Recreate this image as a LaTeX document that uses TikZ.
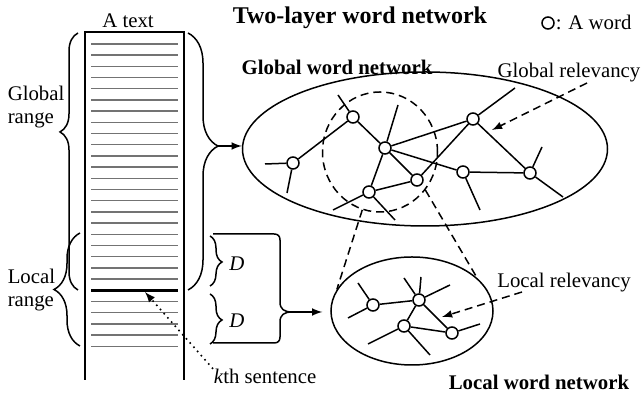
\documentclass[tikz,border=0pt]{standalone}
\usepackage{fontspec}
\setmainfont{Liberation Serif}
\usepackage{tikz}
\usetikzlibrary{shapes.geometric}
\usetikzlibrary{decorations.pathreplacing}

\begin{document}
\begin{tikzpicture}[x=0.5pt,y=-0.5pt,line width=0.75pt,
  font=\fontsize{10.4}{11.5}\selectfont,
  word/.style={shape=circle,draw=black,fill=white,inner sep=0pt,minimum size=6pt},
  net/.style={shape=ellipse,draw=black,inner sep=0pt},
  txtline/.style={line width=0.7pt,black!55},
  dashline/.style={dash pattern=on 4pt off 2.5pt},
  boldlabel/.style={font=\fontsize{10.4}{11.5}\selectfont\bfseries}]

\useasboundingbox (0,0) rectangle (644,399);

%% the text
\draw[line width=0.9pt] (85,380) -- (85,32) -- (184,32) -- (184,380);
\foreach \i in {0,...,27}
  \draw[txtline] (91,{44+11.2*\i}) -- (178,{44+11.2*\i});
\draw[line width=1.3pt] (91,290.4) -- (178,290.4);
\node[anchor=base] (atext) at (128,28) {A text};

%% ranges
\draw[decorate,decoration={brace,amplitude=9pt,aspect=0.615}] (78,290) -- (78,33);
\draw[decorate,decoration={brace,amplitude=13pt,aspect=0.5}] (80,346) -- (80,233);
\node[anchor=west,align=left,inner sep=0pt] (grange) at (7,107) {Global\\range};
\node[anchor=west,align=left,inner sep=0pt] (lrange) at (7,290) {Local\\range};

\draw[decorate,decoration={brace,amplitude=15pt,aspect=0.44}] (188,33) -- (188,290);
\draw[decorate,decoration={brace,amplitude=6pt,aspect=0.52}] (210,236) -- (210,286);
\draw[decorate,decoration={brace,amplitude=6pt,aspect=0.52}] (210,294) -- (210,344);
\node (d1) at (237,264) {\textit{D}};
\node (d2) at (237,321) {\textit{D}};
\draw (213,234) -- (274,234) .. controls (278,234) and (280,236) .. (280,240)
  -- (280,302) .. controls (280,309) and (284,312) .. (292,312)
  .. controls (284,312) and (280,315) .. (280,322)
  -- (280,337) .. controls (280,341) and (278,343) .. (274,343) -- (213,343);

\coordinate (gtip) at (218,146);
\coordinate (ltip) at (292,312);
\coordinate (kline) at (145,292);

%% kth sentence
\node[anchor=base west,inner sep=0pt] (kth) at (213,384) {\textit{k}th sentence};
\draw[dotted,line width=0.8pt,-latex] (kth.north west) -- (kline);

%% titles
\node[anchor=base,font=\fontsize{12}{14}\selectfont\bfseries] (title) at (360,24) {Two-layer word network};
\node[word] (wordkey) at (548,23) {};
\node[anchor=base west,inner sep=0pt] (wordtxt) at (555,30) {: A word};
\node[anchor=base,boldlabel] (gtitle) at (337,75) {Global word network};
\node[anchor=base,boldlabel] (ltitle) at (539,390) {Local word network};
\node[anchor=base] (grel) at (569,78) {Global relevancy};
\node[anchor=base] (lrel) at (564,288) {Local relevancy};

%% global word network
\node[net,minimum width=182.5pt,minimum height=77pt] (gnet) at (425,149) {};
\node[net,dashline,minimum width=57.5pt,minimum height=60pt] (zoomc) at (380,152) {};

\node[word] (g1) at (353,117) {};
\node[word] (g2) at (293,163) {};
\node[word] (g3) at (385,148) {};
\node[word] (g4) at (473,119) {};
\node[word] (g5) at (417,180) {};
\node[word] (g6) at (369,192) {};
\node[word] (g7) at (463,172) {};
\node[word] (g8) at (530,173) {};

\path (g1) edge (g2) edge (g3) edge (338,95);
\path (g2) edge (265,164) edge (287,193);
\path (g3) edge (g4) edge (g7) edge (g5) edge (g6) edge (398,105);
\path (g4) edge (g5) edge (g8) edge (515,88);
\path (g5) edge (g6);
\path (g6) edge (333,210) edge (395,220);
\path (g7) edge (g8) edge (480,210);
\path (g8) edge (542,147) edge (563,197);

%% local word network
\node[net,minimum width=81pt,minimum height=54pt] (lnet) at (412,311) {};

\node[word] (m1) at (373,305) {};
\node[word] (m2) at (419,300) {};
\node[word] (m3) at (404,326) {};
\node[word] (m4) at (452,333) {};

\path (m1) edge (m2) edge (358,283) edge (348,318);
\path (m2) edge (m3) edge (m4) edge (404,278) edge (421,277) edge (450,285);
\path (m3) edge (m4) edge (368,344) edge (430,355);
\path (m4) edge (480,324);

%% arrows
\draw[-latex] (gtip) -- (gnet.west |- gtip);
\draw[-latex,shorten >=4pt] (ltip) -- (lnet.west |- ltip);
\draw[dashline] (zoomc.253) -- (lnet.164);
\draw[dashline] (zoomc.320) -- (lnet.27);

\coordinate (gfrom) at (587,83);
\coordinate (gto) at (492,130);
\coordinate (lfrom) at (522,292);
\coordinate (lto) at (442,317);
\draw[dashline,-latex] (gfrom) -- (gto);
\draw[dashline,-latex] (lfrom) -- (lto);

\end{tikzpicture}
\end{document}
